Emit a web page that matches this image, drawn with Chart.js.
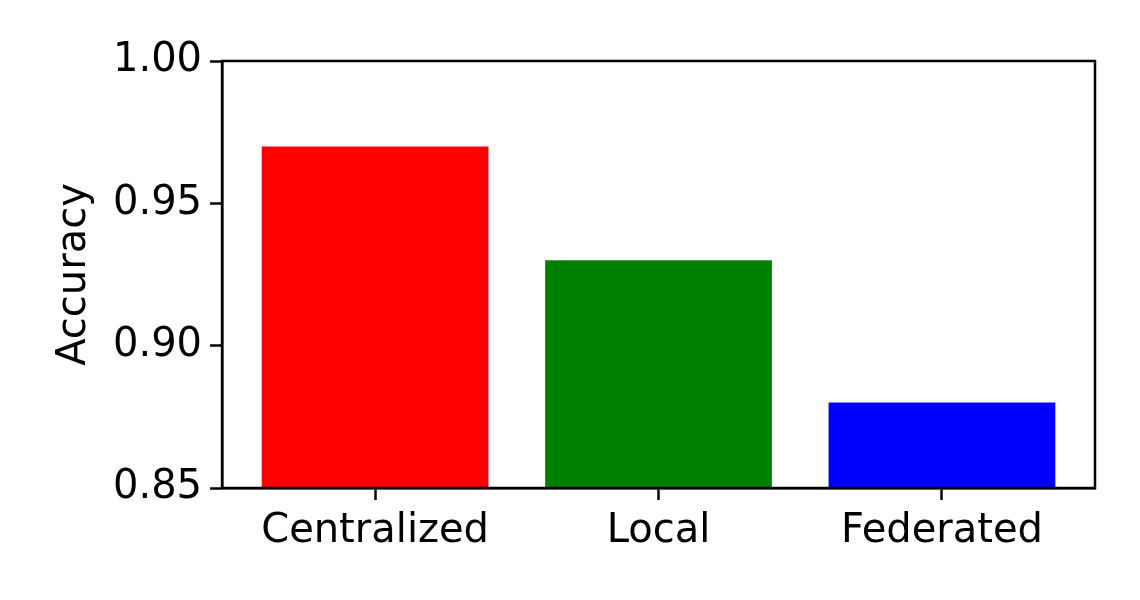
<!DOCTYPE html>
<html><head><meta charset="utf-8">
<script src="https://cdn.jsdelivr.net/npm/chart.js@4"></script>
<style>html,body{margin:0;padding:0;background:#fff}#w{width:1140px;height:600px}</style>
</head><body><div id="w"><canvas id="c"></canvas></div>
<script>
const categories = ["Centralized", "Local", "Federated"];
const accuracy = [0.97, 0.93, 0.88];
const barColors = ["#ff0000", "#008000", "#0000ff"];
const yTicks = [0.85, 0.90, 0.95, 1.00];

const F = {family: "'DejaVu Sans'", size: 40};
const boxPlugin = {
  id: 'box',
  afterDraw(ch) {
    const a = ch.chartArea, ctx = ch.ctx;
    ctx.save(); ctx.strokeStyle = '#000'; ctx.lineWidth = 2.5;
    ctx.strokeRect(a.left, a.top, a.right - a.left, a.bottom - a.top);
    ctx.restore();
  }
};
new Chart(document.getElementById('c'), {
  type: 'bar',
  data: { datasets: [{
    data: accuracy.map((v, i) => ({x: i, y: v})),
    backgroundColor: barColors,
    barPercentage: 0.8, categoryPercentage: 1
  }]},
  options: {
    responsive: true, maintainAspectRatio: false, animation: false,
    layout: {padding: {left: 45, right: 45, top: 61, bottom: 36}},
    plugins: {legend: {display: false}, tooltip: {enabled: false}},
    scales: {
      x: {
        type: 'linear', min: -0.54, max: 2.54, offset: false,
        afterBuildTicks: s => { s.ticks = categories.map((c, i) => ({value: i})); },
        ticks: {callback: v => categories[v], color: '#000', font: F, padding: 8, maxRotation: 0, autoSkip: false},
        grid: {offset: false, drawOnChartArea: false, tickLength: 12, tickWidth: 2.5, color: '#000'},
        border: {color: '#000', width: 2.5}
      },
      y: {
        min: 0.85, max: 1.0,
        afterBuildTicks: s => { s.ticks = yTicks.map(v => ({value: v})); },
        ticks: {callback: v => v.toFixed(2), color: '#000', font: F, padding: 8},
        grid: {drawOnChartArea: false, tickLength: 12, tickWidth: 2.5, color: '#000'},
        border: {color: '#000', width: 2.5},
        title: {display: true, text: 'Accuracy', color: '#000', font: F, padding: 6}
      }
    }
  },
  plugins: [boxPlugin]
});
</script></body></html>
